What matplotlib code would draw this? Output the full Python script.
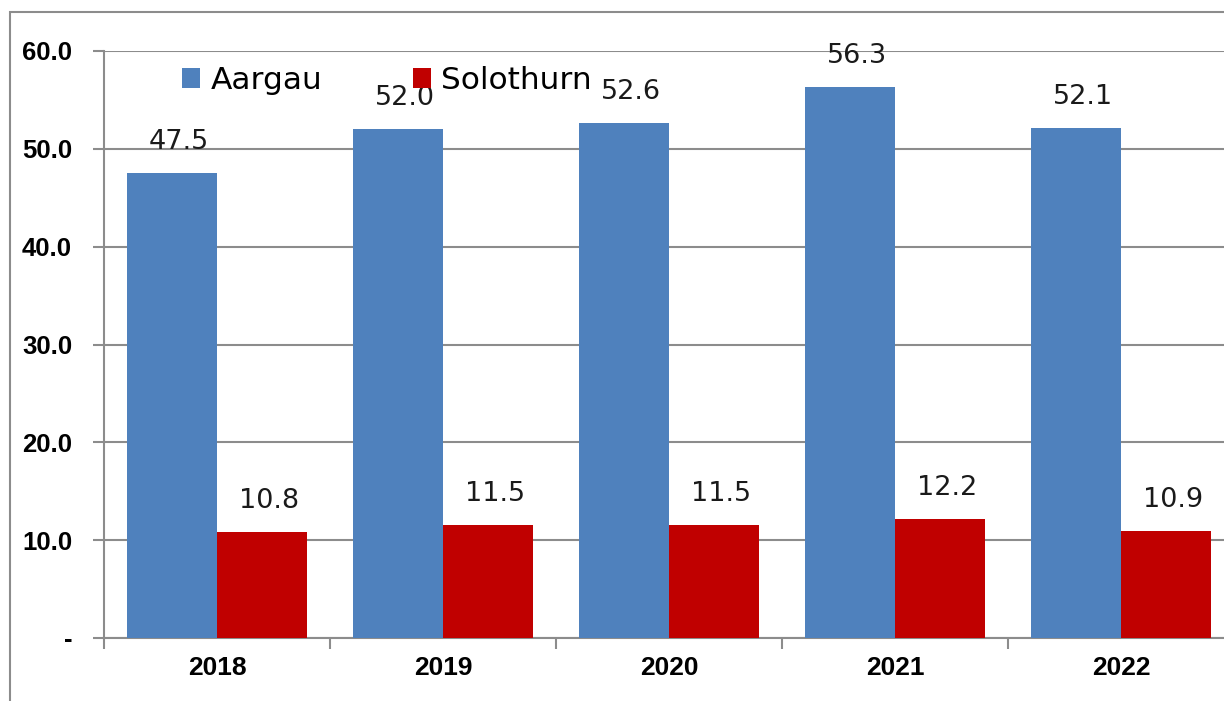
import matplotlib.pyplot as plt
import numpy as np
from matplotlib.patches import Rectangle
from matplotlib import font_manager as fm

years = ['2018', '2019', '2020', '2021', '2022']
aargau = [47.5, 52.0, 52.6, 56.3, 52.1]
solothurn = [10.8, 11.5, 11.5, 12.2, 10.9]
y_ticks = [0, 10, 20, 30, 40, 50, 60]
y_labels = ['-', '10.0', '20.0', '30.0', '40.0', '50.0', '60.0']

blue = '#4F81BD'
red = '#C00000'
grey = '#8C8C8C'

# Arial-like bold for the axis labels (avoid the Narrow variant)
bold_path = None
for f in fm.fontManager.ttflist:
    if f.name == 'Liberation Sans' and f.weight in (700, 'bold') and 'Narrow' not in f.fname \
            and f.style == 'normal':
        bold_path = f.fname
        break


def bold(size):
    if bold_path:
        return fm.FontProperties(fname=bold_path, size=size)
    return fm.FontProperties(family='Liberation Sans', weight='bold', size=size)


fig = plt.figure(figsize=(12.24, 7.01), dpi=100)
# outer chart frame (cut off at right and bottom like the original)
fig.patches.append(Rectangle((10 / 1224, -0.05), 1.1, 0.05 + (701 - 12) / 701,
                             transform=fig.transFigure, fill=False,
                             edgecolor=grey, linewidth=1.5))

ax = fig.add_axes([104 / 1224, 63 / 701, 1130 / 1224, 587 / 701])

x = np.arange(len(years))
width = 0.4
b1 = ax.bar(x - width / 2, aargau, width, color=blue, label='Aargau', zorder=3)
b2 = ax.bar(x + width / 2, solothurn, width, color=red, label='Solothurn', zorder=3)

for bars, vals in ((b1, aargau), (b2, solothurn)):
    for bar, v in zip(bars, vals):
        ax.annotate(f'{v:.1f}', (bar.get_x() + bar.get_width() / 2 + 0.03, v),
                    xytext=(0, 13), textcoords='offset points',
                    ha='center', va='bottom', fontsize=19.5, color='#1a1a1a')

ax.set_xlim(-0.5, len(years) - 0.5)
ax.set_ylim(0, 60)
ax.set_yticks(y_ticks)
ax.set_yticklabels(y_labels, fontproperties=bold(18.5))
ax.set_xticks(x)
ax.set_xticklabels(years, fontproperties=bold(19))
ax.set_xticks(np.arange(len(years) + 1) - 0.5, minor=True)
ax.tick_params(axis='x', which='major', length=0, pad=13)
ax.tick_params(axis='x', which='minor', length=8, color=grey, width=1.5, direction='out')
ax.tick_params(axis='y', length=8, color=grey, width=1.5, pad=15)

ax.grid(axis='y', color=grey, linewidth=1.5, zorder=0)
for side in ['top', 'right']:
    ax.spines[side].set_visible(False)
for side in ['left', 'bottom']:
    ax.spines[side].set_color(grey)
    ax.spines[side].set_linewidth(1.5)

leg = ax.legend(loc='center left', bbox_to_anchor=(0.058, 0.95), ncol=2, frameon=False,
                fontsize=22.5, handlelength=0.58, handleheight=0.58, handletextpad=0.33,
                columnspacing=2.9, borderaxespad=0)

fig.savefig('out.png', dpi=100)
